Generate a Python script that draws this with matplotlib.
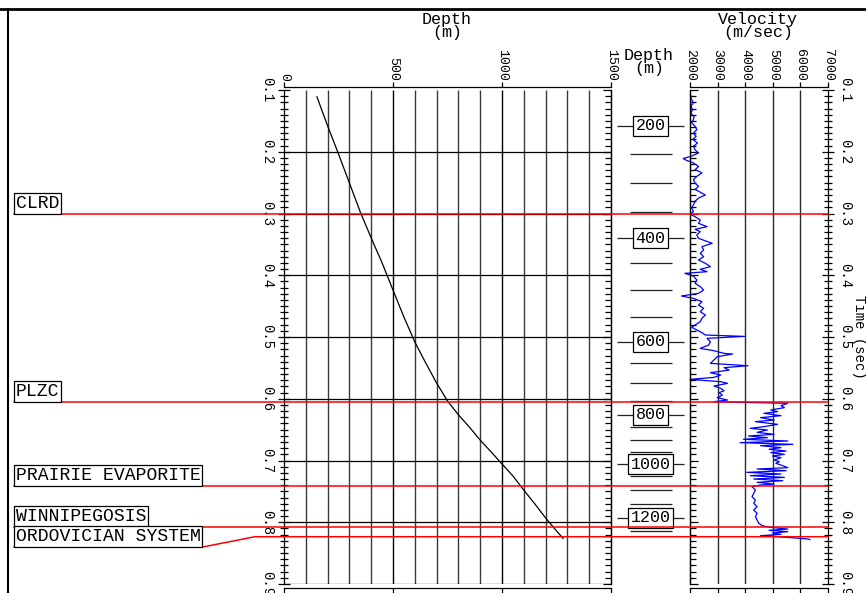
import numpy as np
import matplotlib
matplotlib.use("Agg")
import matplotlib.pyplot as plt
from matplotlib.lines import Line2D
from matplotlib.ticker import MultipleLocator, FormatStrFormatter

# =========================================================
# data
# =========================================================
HORIZON_NAMES = ["CLRD", "PLZC", "PRAIRIE EVAPORITE", "WINNIPEGOSIS", "ORDOVICIAN SYSTEM"]
HORIZON_TIMES = [0.3005, 0.6045, 0.7405, 0.8072, 0.8234]
ORDO_LABEL_TIME = 0.840     # ordovician label sits below its pick

# depth marks (m) and their two-way time (s)
DEPTH_MARK_M = [200, 250, 300, 350, 400, 450, 500, 550, 600, 650, 700,
                750, 800, 850, 900, 950, 1000, 1050, 1100, 1150, 1200, 1250]
DEPTH_MARK_T = [0.158, 0.2036, 0.2506, 0.2976, 0.3397, 0.380, 0.424, 0.4676,
                0.508, 0.542, 0.5745, 0.6036, 0.626, 0.6457, 0.667, 0.686,
                0.7057, 0.725, 0.748, 0.770, 0.793, 0.814]
DEPTH_LABELS = [200, 400, 600, 800, 1000, 1200]

CURVE_DEPTH = [151] + DEPTH_MARK_M + [1280]
CURVE_TIME = [0.111] + DEPTH_MARK_T + [0.826]

# sonic velocity log
VEL_TIME = [
    0.110, 0.114, 0.118, 0.122, 0.125, 0.129, 0.133, 0.136, 0.140, 0.144,
    0.148, 0.153, 0.159, 0.164, 0.170, 0.175, 0.180, 0.186, 0.191, 0.197,
    0.202, 0.207, 0.211, 0.214, 0.218, 0.224, 0.229, 0.234, 0.240, 0.245,
    0.251, 0.256, 0.261, 0.267, 0.270, 0.275, 0.280, 0.286, 0.291, 0.297,
    0.301,
    0.3051, 0.3105, 0.3159, 0.3213, 0.3256, 0.3294, 0.3348, 0.3402, 0.3483, 0.3537,
    0.3591, 0.3645, 0.3699, 0.3753, 0.3807, 0.3861, 0.3904, 0.3942, 0.3969, 0.4012,
    0.4077, 0.4131, 0.4185, 0.4239, 0.4293, 0.4336, 0.4374, 0.4428, 0.4482, 0.4536,
    0.4590, 0.4644, 0.4698, 0.4752, 0.4806, 0.4844, 0.4887, 0.4930, 0.4968, 0.4990,
    0.5022,
    0.5076, 0.5130, 0.5184, 0.5222, 0.5265, 0.5276, 0.5319, 0.5373, 0.5427, 0.5465,
    0.5497, 0.5535, 0.5578, 0.5616, 0.5654, 0.5686, 0.5724, 0.5751, 0.5794, 0.5832,
    0.5870, 0.5902, 0.5940, 0.5983, 0.6021, 0.6048,
    0.6074, 0.6112, 0.6144, 0.6182, 0.6209, 0.6236, 0.6274, 0.6306, 0.6344, 0.6371,
    0.6414, 0.6452, 0.6479, 0.6506, 0.6544, 0.6576, 0.6603, 0.6630, 0.6657, 0.6684,
    0.6711, 0.6738, 0.6760, 0.6792, 0.6819, 0.6846, 0.6873, 0.6900, 0.6927, 0.6954,
    0.6992, 0.7019, 0.7046, 0.7084, 0.7116, 0.7138, 0.7165, 0.7192, 0.7219, 0.7246,
    0.7273, 0.7300, 0.7327, 0.7354, 0.7381, 0.7397,
    0.7424, 0.7478, 0.7532, 0.7586, 0.7640, 0.7694, 0.7748, 0.7802, 0.7856, 0.7910,
    0.7964, 0.8018, 0.8056, 0.8083, 0.8110, 0.8131, 0.8153, 0.8175, 0.8196, 0.8218,
    0.8234, 0.8250, 0.8272, 0.8282,
]
VEL_MS = [
    2062, 2030, 2099, 2110, 2040, 2062, 2090, 2030, 2074, 2150,
    2124, 2062, 2185, 2247, 2124, 2222, 2099, 2272, 2124, 2185,
    2309, 2062, 1753, 1877, 2124, 2309, 2185, 2432, 2247, 2124,
    2185, 2309, 2185, 2432, 2556, 2309, 2185, 2124, 2062, 2124,
    2000,
    2185, 2371, 2309, 2618, 2185, 2371, 2247, 2309, 2803, 2432,
    2494, 2371, 2494, 2309, 2556, 2741, 2371, 2618, 1815, 2124,
    2247, 2185, 2371, 2494, 2309, 1691, 2124, 2432, 2309, 2494,
    2371, 2556, 2432, 2371, 2185, 2062, 2247, 2432, 2556, 3976,
    2618,
    2741, 2679, 2371, 2865, 3235, 3544, 2988, 2865, 2741, 4100,
    3235, 3420, 2741, 3112, 2865, 2000, 3112, 3359, 2865, 3112,
    3235, 3050, 3173, 2988, 3359, 2865,
    5544, 5297, 5420, 4926, 5173, 4679, 5297, 4556, 5050, 4371,
    5173, 4679, 4185, 4803, 4432, 5050, 4124, 4803, 3938, 5544,
    3815, 5729, 4556, 5297, 4865, 5482, 4926, 5420, 4988, 5297,
    5050, 5235, 5112, 5359, 5544, 4432, 5482, 4062, 5297, 4185,
    5420, 4309, 5359, 4432, 5050, 4556,
    4247, 4371, 4309, 4247, 4371, 4309, 4432, 4309, 4432, 4371,
    4432, 4494, 4618, 4926, 5544, 4865, 5544, 4988, 5297, 4556,
    5173, 5667, 6285, 6347,
]

DEPTH_TICKS = [0, 500, 1000, 1500]
DEPTH_GRID = list(range(100, 1500, 100))
VEL_TICKS = [2000, 3000, 4000, 5000, 6000, 7000]
VEL_GRID = [3000, 4000, 5000, 6000]
TIME_TICKS = [0.1, 0.2, 0.3, 0.4, 0.5, 0.6, 0.7, 0.8, 0.9]

# =========================================================
# layout (pixel positions of the original page)
# =========================================================
W, H = 866, 593
MONO = ["Liberation Mono", "DejaVu Sans Mono", "DejaVu Sans"]
plt.rcParams["font.family"] = MONO
plt.rcParams["axes.linewidth"] = 0.9

fig = plt.figure(figsize=(W / 100, H / 100), dpi=100)


def fx(px):
    return px / W


def fy(py):
    return 1 - py / H


bot = fy(584)
hgt = fy(90) - fy(584)
ax_d = fig.add_axes([fx(284), bot, fx(611) - fx(284), hgt])
ax_m = fig.add_axes([fx(611), bot, fx(690) - fx(611), hgt])
ax_v = fig.add_axes([fx(690), bot, fx(828) - fx(690), hgt])
ax_o = fig.add_axes([0, bot, 1, hgt])


def time_axis(ax, side_lab, dir_lab, dir_other):
    """time ticks every 0.01 s; labelled side gets the 0.1 labels"""
    ax.set_ylim(0.9, 0.1)
    ax.set_yticks(TIME_TICKS)
    ax.yaxis.set_minor_locator(MultipleLocator(0.01))
    other = "right" if side_lab == "left" else "left"
    sec = ax.secondary_yaxis(other)
    sec.set_yticks(TIME_TICKS)
    sec.yaxis.set_minor_locator(MultipleLocator(0.01))
    sec.set_yticklabels([])
    sec.tick_params(which="both", direction=dir_other, width=0.9)
    sec.tick_params(which="major", length=6)
    sec.tick_params(which="minor", length=4.3)
    ax.tick_params(axis="y", which="both", direction=dir_lab, width=0.9,
                   left=(side_lab == "left"), right=(side_lab == "right"),
                   labelleft=(side_lab == "left"), labelright=(side_lab == "right"),
                   labelsize=10, pad=3, labelrotation=270)
    ax.tick_params(axis="y", which="major", length=8.6)
    ax.tick_params(axis="y", which="minor", length=5.8)
    ax.yaxis.set_major_formatter(FormatStrFormatter("%.1f"))
    for lab in ax.get_yticklabels():
        lab.set_va("center")


def top_scale(ax, ticks):
    ax.set_xticks(ticks)
    ax.tick_params(axis="x", top=True, bottom=True, labeltop=True, labelbottom=False,
                   direction="out", length=3.5, width=0.9, pad=1,
                   labelsize=9.5, labelrotation=270)
    ax.spines["top"].set_position(("outward", 2.2))
    ax.spines["bottom"].set_position(("outward", 2.9))


# ---- depth vs time panel ----
ax_d.set_xlim(0, 1500)
time_axis(ax_d, "left", "inout", "in")
top_scale(ax_d, DEPTH_TICKS)
ax_d.vlines(DEPTH_GRID, 0.1, 0.9,
            colors=["black" if d % 500 == 0 else "#3a3a3a" for d in DEPTH_GRID], lw=1.0)
ax_d.hlines(TIME_TICKS[1:], 0, 1500, color="black", lw=0.9)
ax_d.plot(CURVE_DEPTH, CURVE_TIME, color="black", lw=0.9)

# ---- velocity panel ----
ax_v.set_xlim(2000, 7000)
time_axis(ax_v, "right", "inout", "in")
top_scale(ax_v, VEL_TICKS)
ax_v.vlines(VEL_GRID, 0.1, 0.9, color="#2a2a2a", lw=1.0)
ax_v.plot(VEL_MS, VEL_TIME, color="#0000ff", lw=0.9, clip_on=False)

# ---- depth marks column ----
ax_m.set_xlim(0, 1)
ax_m.set_ylim(0.9, 0.1)
ax_m.axis("off")
for d, t in zip(DEPTH_MARK_M, DEPTH_MARK_T):
    if d in DEPTH_LABELS:
        ax_m.hlines(t, 0.076, 0.924, color="#222222", lw=0.9)
        ax_m.text(0.5, t, str(d), ha="center", va="center", fontsize=12,
                  bbox=dict(boxstyle="square,pad=0.15", fc="white", ec="black", lw=0.9))
    else:
        ax_m.hlines(t, 0.24, 0.77, color="#222222", lw=0.9)

# ---- horizon picks ----
ax_o.set_xlim(0, W)
ax_o.set_ylim(0.9, 0.1)
ax_o.axis("off")
for name, t in zip(HORIZON_NAMES, HORIZON_TIMES):
    if name == "ORDOVICIAN SYSTEM":
        ax_o.plot([14, 203, 255, 828], [ORDO_LABEL_TIME, ORDO_LABEL_TIME, t, t],
                  color="red", lw=1.1, clip_on=False)
        box_t = ORDO_LABEL_TIME
    else:
        ax_o.plot([14, 828], [t, t], color="red", lw=1.1, clip_on=False)
        box_t = t
    ax_o.annotate(name, xy=(14, box_t), xytext=(1.8, 1.8), textcoords="offset pixels",
                  ha="left", va="bottom", fontsize=13.1,
                  bbox=dict(boxstyle="square,pad=0.1", fc="white", ec="black", lw=0.9))

# ---- titles ----
fig.text(fx(447), fy(12), "Depth\n(m)", ha="center", va="top", fontsize=12,
         linespacing=0.85, multialignment="center")
fig.text(fx(649), fy(48), "Depth\n(m)", ha="center", va="top", fontsize=12,
         linespacing=0.85, multialignment="center")
fig.text(fx(758), fy(12), "Velocity\n(m/sec)", ha="center", va="top", fontsize=12,
         linespacing=0.85, multialignment="center")
fig.text(fx(859), fy(337), "Time (sec)", rotation=270, ha="center", va="center",
         fontsize=10)

# ---- page frame ----
fig.add_artist(Line2D([0, 1], [fy(9), fy(9)], color="black", lw=2.0,
                      transform=fig.transFigure))
fig.add_artist(Line2D([fx(8), fx(8)], [0, fy(9)], color="black", lw=1.5,
                      transform=fig.transFigure))

fig.savefig("out.png", dpi=100)
